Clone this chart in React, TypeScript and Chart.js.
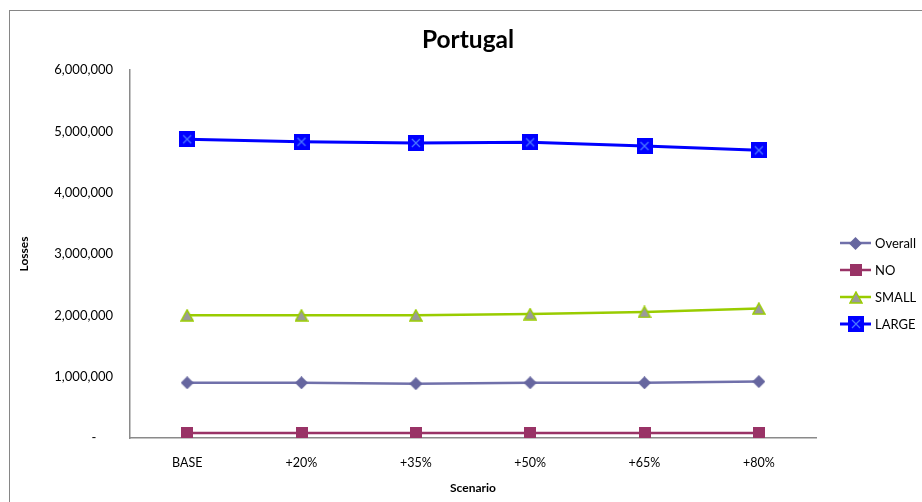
import { useEffect, useRef } from 'react';
import { Chart, registerables } from 'chart.js';

Chart.register(...registerables);

// Scenario categories along the x axis
const scenarios = ['BASE', '+20%', '+35%', '+50%', '+65%', '+80%'];

// Losses per scenario for each group
const overallLosses = [900000, 900000, 885000, 900000, 900000, 920000];
const noLosses = [80000, 80000, 80000, 80000, 80000, 80000];
const smallLosses = [2000000, 2000000, 2000000, 2020000, 2055000, 2110000];
const largeLosses = [4870000, 4830000, 4810000, 4820000, 4760000, 4690000];

const seriesNames = ['Overall', 'NO', 'SMALL', 'LARGE'];

const FONT = 'Lato, "Open Sans", "Liberation Sans", sans-serif';

const COLORS = {
  overallLine: '#7070aa',
  overallMark: '#66669f',
  no: '#993366',
  small: '#99cc00',
  smallFill: '#9a9a9a',
  large: '#0000ff',
  largeCross: '#4a78ff',
};

function makeCanvas(w: number, h: number, draw: (c: CanvasRenderingContext2D) => void) {
  const cv = document.createElement('canvas');
  cv.width = w;
  cv.height = h;
  const c = cv.getContext('2d')!;
  draw(c);
  return cv;
}

function buildMarkers() {
  const diamond = makeCanvas(13, 13, (c) => {
    c.fillStyle = COLORS.overallMark;
    c.beginPath();
    c.moveTo(6.5, 0);
    c.lineTo(13, 6.5);
    c.lineTo(6.5, 13);
    c.lineTo(0, 6.5);
    c.closePath();
    c.fill();
  });
  const square = makeCanvas(12, 12, (c) => {
    c.fillStyle = COLORS.no;
    c.fillRect(0, 0, 12, 12);
  });
  const triangle = makeCanvas(14, 13, (c) => {
    c.fillStyle = COLORS.smallFill;
    c.strokeStyle = COLORS.small;
    c.lineWidth = 1.5;
    c.beginPath();
    c.moveTo(7, 1);
    c.lineTo(13, 12);
    c.lineTo(1, 12);
    c.closePath();
    c.fill();
    c.stroke();
  });
  const crossBox = makeCanvas(16, 16, (c) => {
    c.fillStyle = COLORS.large;
    c.fillRect(0, 0, 16, 16);
    c.strokeStyle = COLORS.largeCross;
    c.lineWidth = 1.2;
    c.beginPath();
    c.moveTo(4, 4);
    c.lineTo(12, 12);
    c.moveTo(12, 4);
    c.lineTo(4, 12);
    c.stroke();
  });
  return [diamond, square, triangle, crossBox];
}

export default function App() {
  const ref = useRef<HTMLCanvasElement | null>(null);

  useEffect(() => {
    document.body.style.margin = '0';
    const canvas = ref.current!;
    const markers = buildMarkers();
    const lineColors = [COLORS.overallLine, COLORS.no, COLORS.small, COLORS.large];
    const lineWidths = [2.5, 2.5, 2.5, 3];
    const values = [overallLosses, noLosses, smallLosses, largeLosses];

    const decor = {
      id: 'decor',
      beforeDraw(chart: any) {
        const c = chart.ctx as CanvasRenderingContext2D;
        c.save();
        c.fillStyle = '#ffffff';
        c.fillRect(0, 0, chart.width, chart.height);
        c.strokeStyle = '#868686';
        c.lineWidth = 1;
        c.strokeRect(9.5, 10.5, 1000, 1000);
        c.restore();
      },
      afterDraw(chart: any) {
        const c = chart.ctx as CanvasRenderingContext2D;
        const area = chart.chartArea;
        c.save();
        c.fillStyle = '#000000';
        c.textAlign = 'center';
        c.textBaseline = 'middle';

        // Chart title
        c.font = `bold 24.5px ${FONT}`;
        c.fillText('Portugal', 468, 40);

        // Axis titles
        c.font = `bold 12px ${FONT}`;
        c.fillText('Scenario', (area.left + area.right) / 2, 488);
        c.save();
        c.translate(24, 254);
        c.rotate(-Math.PI / 2);
        c.fillText('Losses', 0, 0);
        c.restore();

        // Legend: line sample with marker, then the name
        c.textAlign = 'left';
        c.font = `13px ${FONT}`;
        seriesNames.forEach((name, i) => {
          const y = 243 + i * 27;
          c.strokeStyle = lineColors[i];
          c.lineWidth = lineWidths[i];
          c.beginPath();
          c.moveTo(840, y);
          c.lineTo(871, y);
          c.stroke();
          const m = markers[i];
          c.drawImage(m, Math.round(855.5 - m.width / 2), Math.round(y - m.height / 2));
          c.fillStyle = '#000000';
          c.fillText(name, 875, y + 1);
        });
        c.restore();
      },
    };

    const chart = new Chart(canvas, {
      type: 'line',
      data: {
        labels: scenarios,
        datasets: seriesNames.map((name, i) => ({
          label: name,
          data: values[i],
          borderColor: lineColors[i],
          backgroundColor: lineColors[i],
          borderWidth: lineWidths[i],
          pointStyle: markers[i] as any,
          pointRadius: 7,
          tension: 0,
          fill: false,
        })),
      },
      options: {
        responsive: false,
        animation: false,
        layout: { padding: { left: 0, right: 106, top: 70, bottom: 0 } },
        plugins: {
          legend: { display: false },
          title: { display: false },
          tooltip: { enabled: false },
        },
        scales: {
          x: {
            type: 'category',
            offset: true,
            grid: { display: false, drawTicks: false },
            border: { display: true, color: '#8a8a8a', width: 1.5 },
            ticks: {
              padding: 17,
              color: '#000000',
              font: { family: FONT, size: 12.5 },
              maxRotation: 0,
            },
            afterFit: (s: any) => {
              s.height = 64;
            },
          },
          y: {
            min: 0,
            max: 6000000,
            grid: { display: false, drawTicks: false },
            border: { display: true, color: '#8a8a8a', width: 1.5 },
            ticks: {
              stepSize: 1000000,
              padding: 17,
              color: '#000000',
              font: { family: FONT, size: 13 },
              callback: (v: any) => (Number(v) === 0 ? '-     ' : Number(v).toLocaleString('en-US')),
            },
            afterFit: (s: any) => {
              s.width = 130;
            },
          },
        },
      },
      plugins: [decor],
    });

    return () => chart.destroy();
  }, []);

  return <canvas ref={ref} width={922} height={502} style={{ display: 'block' }} />;
}
